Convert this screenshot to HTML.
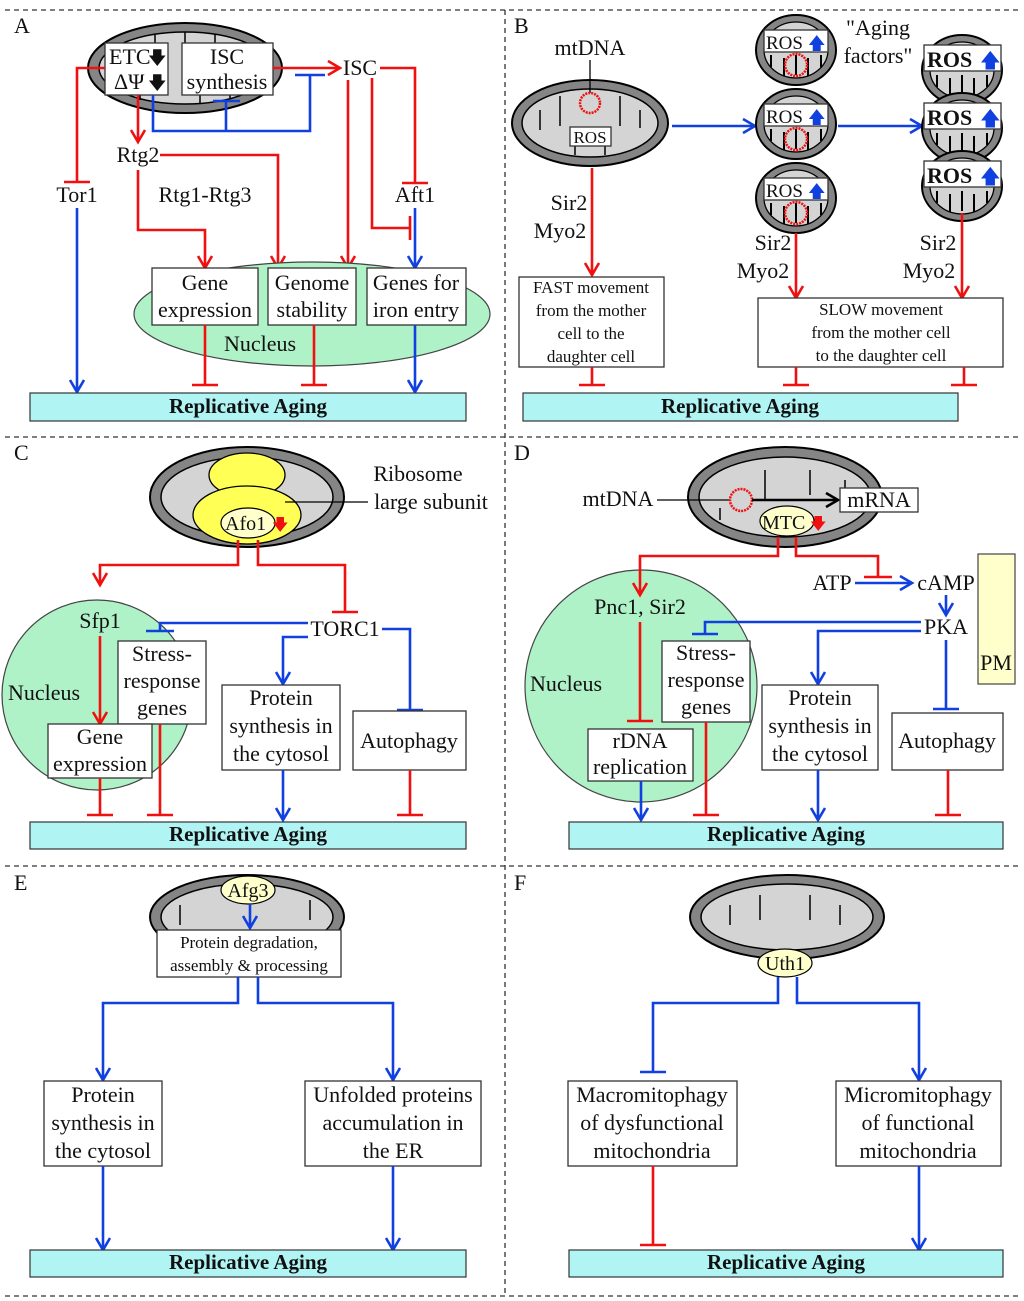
<!DOCTYPE html>
<html><head><meta charset="utf-8"><style>
html,body{margin:0;padding:0;background:#fff}
svg{display:block}
text{font-family:"Liberation Serif",serif;font-size:22px;fill:#111}
.b{font-weight:bold;font-size:21px}
.r{stroke:#f01010;stroke-width:2.6;fill:none}
.u{stroke:#1040e0;stroke-width:2.6;fill:none}
.bx{fill:#fff;stroke:#333;stroke-width:1.3}
.ra{fill:#b0f4f4;stroke:#333;stroke-width:1.2}
.nuc{fill:#b0f2c8;stroke:#444;stroke-width:1.2}
</style></head><body>
<svg width="1024" height="1301" viewBox="0 0 1024 1301" xmlns="http://www.w3.org/2000/svg">
<defs>
<marker id="ar" markerUnits="userSpaceOnUse" markerWidth="20" markerHeight="20" refX="14" refY="10" orient="auto"><path d="M2,3 L14,10 L2,17" fill="none" stroke="#f01010" stroke-width="2.6"/></marker>
<marker id="ab" markerUnits="userSpaceOnUse" markerWidth="20" markerHeight="20" refX="14" refY="10" orient="auto"><path d="M2,3 L14,10 L2,17" fill="none" stroke="#1040e0" stroke-width="2.6"/></marker>
<marker id="ak" markerUnits="userSpaceOnUse" markerWidth="20" markerHeight="20" refX="14" refY="10" orient="auto"><path d="M2,3 L14,10 L2,17" fill="none" stroke="#000" stroke-width="2.6"/></marker>
<g id="mito">
<ellipse cx="0" cy="0" rx="97" ry="45" fill="#858585" stroke="#000" stroke-width="2"/>
<ellipse cx="0" cy="0" rx="86" ry="36" fill="#d4d4d4" stroke="#000" stroke-width="1.5"/>
<path d="M-60,-26 v26 M-30,-34 v34 M0,-36 v30 M30,-34 v34 M60,-26 v26 M-45,32 v-20 M15,35 v-22 M45,30 v-18" fill="none" stroke="#000" stroke-width="1.5"/>
</g>
<g id="sm">
<ellipse cx="0" cy="0" rx="40" ry="35" fill="#858585" stroke="#000" stroke-width="2"/>
<ellipse cx="0" cy="0" rx="32" ry="28" fill="#d4d4d4" stroke="#000" stroke-width="1.3"/>
<path d="M-25,5 v12 M-12,8 v18 M0,5 v20 M12,8 v18 M25,5 v12" stroke="#000" stroke-width="2"/>
</g>
</defs>
<g stroke="#333" stroke-width="1.3" stroke-dasharray="5,4" fill="none">
<line x1="5" y1="10" x2="1019" y2="10"/><line x1="5" y1="437" x2="1019" y2="437"/>
<line x1="5" y1="866" x2="1019" y2="866"/><line x1="5" y1="1296" x2="1019" y2="1296"/>
<line x1="505" y1="10" x2="505" y2="1296"/>
</g>
<text x="14" y="33">A</text><text x="514" y="33">B</text><text x="14" y="460">C</text><text x="514" y="460">D</text><text x="14" y="890">E</text><text x="514" y="890">F</text>

<!-- ===== A ===== -->
<use href="#mito" x="185" y="68"/>
<rect class="bx" x="105" y="43" width="63" height="52"/>
<text x="109" y="64">ETC</text><text x="148" y="64" style="font-size:18px">&#x1F847;</text>
<text x="114" y="89">ΔΨ</text><text x="148" y="89" style="font-size:18px">&#x1F847;</text>
<rect class="bx" x="182" y="43" width="91" height="52"/>
<text x="227" y="64" text-anchor="middle">ISC</text><text x="227" y="89" text-anchor="middle">synthesis</text>
<text x="360" y="75" text-anchor="middle">ISC</text>
<path class="r" d="M105,68 H77 V182 M64,182 H90"/>
<text x="77" y="202" text-anchor="middle">Tor1</text>
<path class="u" d="M77,208 V392" marker-end="url(#ab)"/>
<path class="r" d="M273,68 H340" marker-end="url(#ar)"/>
<path class="u" d="M153,95 V131 H310 V75 M295,75 H325 M226,131 V101 M213,101 H240"/>
<path class="r" d="M138,95 V142" marker-end="url(#ar)"/>
<text x="138" y="162" text-anchor="middle">Rtg2</text>
<path class="r" d="M160,155 H278 V268" marker-end="url(#ar)"/>
<path class="r" d="M138,170 V230 H205 V268" marker-end="url(#ar)"/>
<text x="205" y="202" text-anchor="middle">Rtg1-Rtg3</text>
<path class="r" d="M348,80 V268" marker-end="url(#ar)"/>
<path class="r" d="M380,68 H415 V183 M402,183 H428"/>
<path class="r" d="M372,78 V228 H410 M410,216 V240"/>
<text x="415" y="202" text-anchor="middle">Aft1</text>
<path class="u" d="M415,208 V268" marker-end="url(#ab)"/>
<ellipse class="nuc" cx="312" cy="314" rx="178" ry="52"/>
<rect class="bx" x="152" y="268" width="106" height="57"/>
<text x="205" y="290" text-anchor="middle">Gene</text><text x="205" y="317" text-anchor="middle">expression</text>
<rect class="bx" x="268" y="268" width="88" height="57"/>
<text x="312" y="290" text-anchor="middle">Genome</text><text x="312" y="317" text-anchor="middle">stability</text>
<rect class="bx" x="367" y="268" width="99" height="57"/>
<text x="416" y="290" text-anchor="middle">Genes for</text><text x="416" y="317" text-anchor="middle">iron entry</text>
<text x="260" y="351" text-anchor="middle">Nucleus</text>
<path class="r" d="M205,325 V385 M192,385 H218 M314,325 V385 M301,385 H327"/>
<path class="u" d="M415,325 V392" marker-end="url(#ab)"/>
<rect class="ra" x="30" y="393" width="436" height="28"/>
<text class="b" x="248" y="413" text-anchor="middle">Replicative Aging</text>

<!-- ===== B ===== -->
<ellipse cx="590" cy="123" rx="78" ry="43" fill="#858585" stroke="#000" stroke-width="2"/>
<ellipse cx="590" cy="123" rx="68" ry="34" fill="#d4d4d4" stroke="#000" stroke-width="1.5"/>
<path d="M540,110 v20 M560,96 v30 M620,96 v30 M640,110 v18 M575,155 v-12 M605,155 v-12" stroke="#000" stroke-width="1.5" fill="none"/>
<text x="590" y="55" text-anchor="middle">mtDNA</text>
<line x1="590" y1="60" x2="590" y2="93" stroke="#000" stroke-width="1.3"/>
<circle cx="590" cy="103" r="10" fill="none" stroke="#f01010" stroke-width="2.5" stroke-dasharray="2,1"/>
<rect class="bx" x="570" y="127" width="41" height="19"/>
<text x="590" y="143" text-anchor="middle" style="font-size:17px">ROS</text>
<path class="u" d="M672,126 H755" marker-end="url(#ab)"/>
<path class="u" d="M838,126 H922" marker-end="url(#ab)"/>
<g>
<use href="#sm" x="796" y="50"/><use href="#sm" x="796" y="124"/><use href="#sm" x="796" y="198"/>
<g fill="none" stroke="#f01010" stroke-width="2.5" stroke-dasharray="2,1"><circle cx="796" cy="65" r="11"/><circle cx="796" cy="139" r="11"/><circle cx="796" cy="213" r="11"/></g>
<rect class="bx" x="764" y="30" width="64" height="22"/><text x="766" y="49" style="font-size:19px">ROS</text><text x="808" y="49" style="font-size:17px;fill:#1040e0">&#x1F845;</text>
<rect class="bx" x="764" y="104" width="64" height="22"/><text x="766" y="123" style="font-size:19px">ROS</text><text x="808" y="123" style="font-size:17px;fill:#1040e0">&#x1F845;</text>
<rect class="bx" x="764" y="178" width="64" height="22"/><text x="766" y="197" style="font-size:19px">ROS</text><text x="808" y="197" style="font-size:17px;fill:#1040e0">&#x1F845;</text>
</g>
<use href="#sm" x="962" y="70"/><use href="#sm" x="962" y="128"/><use href="#sm" x="962" y="186"/>
<rect class="bx" x="924" y="45" width="77" height="26"/><text x="927" y="67" style="font-size:22px;font-weight:bold">ROS</text><text x="980" y="67" style="font-size:20px;fill:#1040e0">&#x1F845;</text>
<rect class="bx" x="924" y="103" width="77" height="26"/><text x="927" y="125" style="font-size:22px;font-weight:bold">ROS</text><text x="980" y="125" style="font-size:20px;fill:#1040e0">&#x1F845;</text>
<rect class="bx" x="924" y="161" width="77" height="26"/><text x="927" y="183" style="font-size:22px;font-weight:bold">ROS</text><text x="980" y="183" style="font-size:20px;fill:#1040e0">&#x1F845;</text>
<text x="878" y="35" text-anchor="middle">"Aging</text><text x="878" y="63" text-anchor="middle">factors"</text>
<text x="569" y="210" text-anchor="middle">Sir2</text><text x="560" y="238" text-anchor="middle">Myo2</text>
<path class="r" d="M592,168 V275" marker-end="url(#ar)"/>
<rect class="bx" x="519" y="277" width="145" height="90"/>
<g text-anchor="middle"><text x="591" y="293" style="font-size:17px">FAST movement</text><text x="591" y="316" style="font-size:17px">from the mother</text><text x="591" y="339" style="font-size:17px">cell to the</text><text x="591" y="362" style="font-size:17px">daughter cell</text></g>
<path class="r" d="M592,367 V385 M579,385 H605"/>
<text x="773" y="250" text-anchor="middle">Sir2</text><text x="763" y="278" text-anchor="middle">Myo2</text>
<path class="r" d="M796,233 V298" marker-end="url(#ar)"/>
<text x="938" y="250" text-anchor="middle">Sir2</text><text x="929" y="278" text-anchor="middle">Myo2</text>
<path class="r" d="M962,213 V298" marker-end="url(#ar)"/>
<rect class="bx" x="758" y="298" width="245" height="69"/>
<g text-anchor="middle"><text x="881" y="315" style="font-size:17px">SLOW movement</text><text x="881" y="338" style="font-size:17px">from the mother cell</text><text x="881" y="361" style="font-size:17px">to the daughter cell</text></g>
<path class="r" d="M796,367 V385 M783,385 H809 M964,367 V385 M951,385 H977"/>
<rect class="ra" x="523" y="393" width="435" height="28"/>
<text class="b" x="740" y="413" text-anchor="middle">Replicative Aging</text>

<!-- ===== C ===== -->
<ellipse cx="247" cy="497" rx="97" ry="50" fill="#858585" stroke="#000" stroke-width="2"/>
<ellipse cx="247" cy="497" rx="86" ry="40" fill="#d4d4d4" stroke="#000" stroke-width="1.5"/>
<ellipse cx="247" cy="475" rx="38" ry="22" fill="#ffff55" stroke="#000" stroke-width="1.3"/>
<ellipse cx="247" cy="515" rx="54" ry="29" fill="#ffff55" stroke="#000" stroke-width="1.3"/>
<ellipse cx="248" cy="523" rx="27" ry="15" fill="#ffffcc" stroke="#000" stroke-width="1.2"/>
<text x="225" y="530" style="font-size:20px">Afo1</text><text x="272" y="530" style="font-size:16px;fill:#f01010">&#x1F847;</text>
<line x1="285" y1="502" x2="368" y2="502" stroke="#000" stroke-width="1.3"/>
<text x="418" y="481" text-anchor="middle">Ribosome</text><text x="431" y="509" text-anchor="middle">large subunit</text>
<circle class="nuc" cx="97" cy="695" r="95"/>
<path class="r" d="M238,540 V565 H100 V585" marker-end="url(#ar)"/>
<path class="r" d="M258,540 V565 H345 V612 M332,612 H358"/>
<text x="100" y="628" text-anchor="middle">Sfp1</text>
<text x="345" y="636" text-anchor="middle">TORC1</text>
<text x="44" y="700" text-anchor="middle">Nucleus</text>
<path class="r" d="M100,636 V724" marker-end="url(#ar)"/>
<path class="u" d="M308,623 H160 V631 M146,631 H174"/>
<path class="u" d="M308,637 H283 V684" marker-end="url(#ab)"/>
<path class="u" d="M382,629 H410 V710 M397,710 H423"/>
<rect class="bx" x="118" y="641" width="88" height="83"/>
<text x="162" y="661" text-anchor="middle">Stress-</text><text x="162" y="688" text-anchor="middle">response</text><text x="162" y="715" text-anchor="middle">genes</text>
<rect class="bx" x="48" y="724" width="104" height="54"/>
<text x="100" y="744" text-anchor="middle">Gene</text><text x="100" y="771" text-anchor="middle">expression</text>
<rect class="bx" x="222" y="685" width="118" height="85"/>
<text x="281" y="705" text-anchor="middle">Protein</text><text x="281" y="733" text-anchor="middle">synthesis in</text><text x="281" y="761" text-anchor="middle">the cytosol</text>
<rect class="bx" x="353" y="711" width="113" height="59"/>
<text x="409" y="748" text-anchor="middle">Autophagy</text>
<path class="r" d="M100,778 V815 M87,815 H113 M160,724 V815 M147,815 H173 M410,770 V815 M397,815 H423"/>
<path class="u" d="M283,770 V820" marker-end="url(#ab)"/>
<rect class="ra" x="30" y="822" width="436" height="27"/>
<text class="b" x="248" y="841" text-anchor="middle">Replicative Aging</text>

<!-- ===== D ===== -->
<ellipse cx="785" cy="497" rx="97" ry="50" fill="#858585" stroke="#000" stroke-width="2"/>
<ellipse cx="785" cy="497" rx="86" ry="40" fill="#d4d4d4" stroke="#000" stroke-width="1.5"/>
<path d="M765,470 v30 M810,470 v25 M845,480 v20 M720,520 v-12" stroke="#000" stroke-width="1.5" fill="none"/>
<text x="618" y="506" text-anchor="middle">mtDNA</text>
<line x1="657" y1="500" x2="730" y2="500" stroke="#000" stroke-width="1.3"/>
<circle cx="741" cy="500" r="11" fill="#d4d4d4" stroke="#f01010" stroke-width="2.5" stroke-dasharray="2,1"/>
<path d="M752,500 H838" stroke="#000" stroke-width="2.5" fill="none" marker-end="url(#ak)"/>
<rect class="bx" x="840" y="488" width="78" height="24"/>
<text x="879" y="507" text-anchor="middle">mRNA</text>
<ellipse cx="787" cy="521" rx="27" ry="15" fill="#ffffcc" stroke="#000" stroke-width="1.2"/>
<text x="762" y="529" style="font-size:20px">MTC</text><text x="810" y="529" style="font-size:16px;fill:#f01010">&#x1F847;</text>
<circle class="nuc" cx="641" cy="686" r="116"/>
<rect x="978" y="554" width="37" height="130" fill="#ffffcc" stroke="#444" stroke-width="1.2"/>
<text x="996" y="670" text-anchor="middle">PM</text>
<path class="r" d="M778,537 V556 H640 V595" marker-end="url(#ar)"/>
<path class="r" d="M796,537 V556 H878 V577 M864,577 H892"/>
<text x="832" y="590" text-anchor="middle">ATP</text>
<path class="u" d="M855,583 H912" marker-end="url(#ab)"/>
<text x="946" y="590" text-anchor="middle">cAMP</text>
<path class="u" d="M946,595 V615" marker-end="url(#ab)"/>
<text x="946" y="634" text-anchor="middle">PKA</text>
<text x="640" y="614" text-anchor="middle">Pnc1, Sir2</text>
<text x="566" y="691" text-anchor="middle">Nucleus</text>
<path class="r" d="M640,622 V721 M627,721 H653"/>
<path class="u" d="M921,622 H705 V634 M692,634 H718"/>
<path class="u" d="M921,631 H818 V684" marker-end="url(#ab)"/>
<path class="u" d="M946,640 V709 M933,709 H959"/>
<rect class="bx" x="662" y="641" width="88" height="81"/>
<text x="706" y="660" text-anchor="middle">Stress-</text><text x="706" y="687" text-anchor="middle">response</text><text x="706" y="714" text-anchor="middle">genes</text>
<rect class="bx" x="588" y="729" width="105" height="52"/>
<text x="640" y="748" text-anchor="middle">rDNA</text><text x="640" y="774" text-anchor="middle">replication</text>
<rect class="bx" x="762" y="685" width="116" height="85"/>
<text x="820" y="705" text-anchor="middle">Protein</text><text x="820" y="733" text-anchor="middle">synthesis in</text><text x="820" y="761" text-anchor="middle">the cytosol</text>
<rect class="bx" x="892" y="713" width="111" height="57"/>
<text x="947" y="748" text-anchor="middle">Autophagy</text>
<path class="u" d="M641,781 V820" marker-end="url(#ab)"/>
<path class="u" d="M818,770 V820" marker-end="url(#ab)"/>
<path class="r" d="M706,722 V815 M693,815 H719 M948,770 V815 M935,815 H961"/>
<rect class="ra" x="569" y="822" width="434" height="27"/>
<text class="b" x="786" y="841" text-anchor="middle">Replicative Aging</text>

<!-- ===== E ===== -->
<ellipse cx="247" cy="917" rx="97" ry="42" fill="#858585" stroke="#000" stroke-width="2"/>
<ellipse cx="247" cy="917" rx="86" ry="33" fill="#d4d4d4" stroke="#000" stroke-width="1.5"/>
<path d="M180,905 v20 M310,900 v20" stroke="#000" stroke-width="1.5" fill="none"/>
<ellipse cx="248" cy="890" rx="27" ry="14" fill="#ffffcc" stroke="#000" stroke-width="1.2"/>
<text x="248" y="897" text-anchor="middle" style="font-size:20px">Afg3</text>
<path class="u" d="M250,904 V928" marker-end="url(#ab)"/>
<rect class="bx" x="157" y="930" width="184" height="47"/>
<text x="249" y="948" text-anchor="middle" style="font-size:17px">Protein degradation,</text>
<text x="249" y="971" text-anchor="middle" style="font-size:17px">assembly  &amp; processing</text>
<path class="u" d="M238,977 V1003 H103 V1080" marker-end="url(#ab)"/>
<path class="u" d="M258,977 V1003 H393 V1080" marker-end="url(#ab)"/>
<rect class="bx" x="44" y="1081" width="118" height="85"/>
<text x="103" y="1102" text-anchor="middle">Protein</text><text x="103" y="1130" text-anchor="middle">synthesis in</text><text x="103" y="1158" text-anchor="middle">the cytosol</text>
<rect class="bx" x="305" y="1081" width="176" height="85"/>
<text x="393" y="1102" text-anchor="middle">Unfolded proteins</text><text x="393" y="1130" text-anchor="middle">accumulation in</text><text x="393" y="1158" text-anchor="middle">the ER</text>
<path class="u" d="M103,1166 V1250" marker-end="url(#ab)"/>
<path class="u" d="M393,1166 V1250" marker-end="url(#ab)"/>
<rect class="ra" x="30" y="1250" width="436" height="27"/>
<text class="b" x="248" y="1269" text-anchor="middle">Replicative Aging</text>

<!-- ===== F ===== -->
<ellipse cx="787" cy="917" rx="97" ry="42" fill="#858585" stroke="#000" stroke-width="2"/>
<ellipse cx="787" cy="917" rx="86" ry="33" fill="#d4d4d4" stroke="#000" stroke-width="1.5"/>
<path d="M730,905 v20 M760,895 v25 M810,895 v25 M840,905 v20" stroke="#000" stroke-width="1.5" fill="none"/>
<ellipse cx="785" cy="963" rx="27" ry="14" fill="#ffffcc" stroke="#000" stroke-width="1.2"/>
<text x="785" y="970" text-anchor="middle" style="font-size:20px">Uth1</text>
<path class="u" d="M778,977 V1003 H653 V1072 M640,1072 H666"/>
<path class="u" d="M797,977 V1003 H919 V1080" marker-end="url(#ab)"/>
<rect class="bx" x="568" y="1081" width="169" height="85"/>
<text x="652" y="1102" text-anchor="middle">Macromitophagy</text><text x="652" y="1130" text-anchor="middle">of dysfunctional</text><text x="652" y="1158" text-anchor="middle">mitochondria</text>
<rect class="bx" x="836" y="1081" width="165" height="85"/>
<text x="918" y="1102" text-anchor="middle">Micromitophagy</text><text x="918" y="1130" text-anchor="middle">of functional</text><text x="918" y="1158" text-anchor="middle">mitochondria</text>
<path class="r" d="M653,1166 V1245 M640,1245 H666"/>
<path class="u" d="M919,1166 V1250" marker-end="url(#ab)"/>
<rect class="ra" x="569" y="1250" width="434" height="27"/>
<text class="b" x="786" y="1269" text-anchor="middle">Replicative Aging</text>
</svg>
</body></html>
